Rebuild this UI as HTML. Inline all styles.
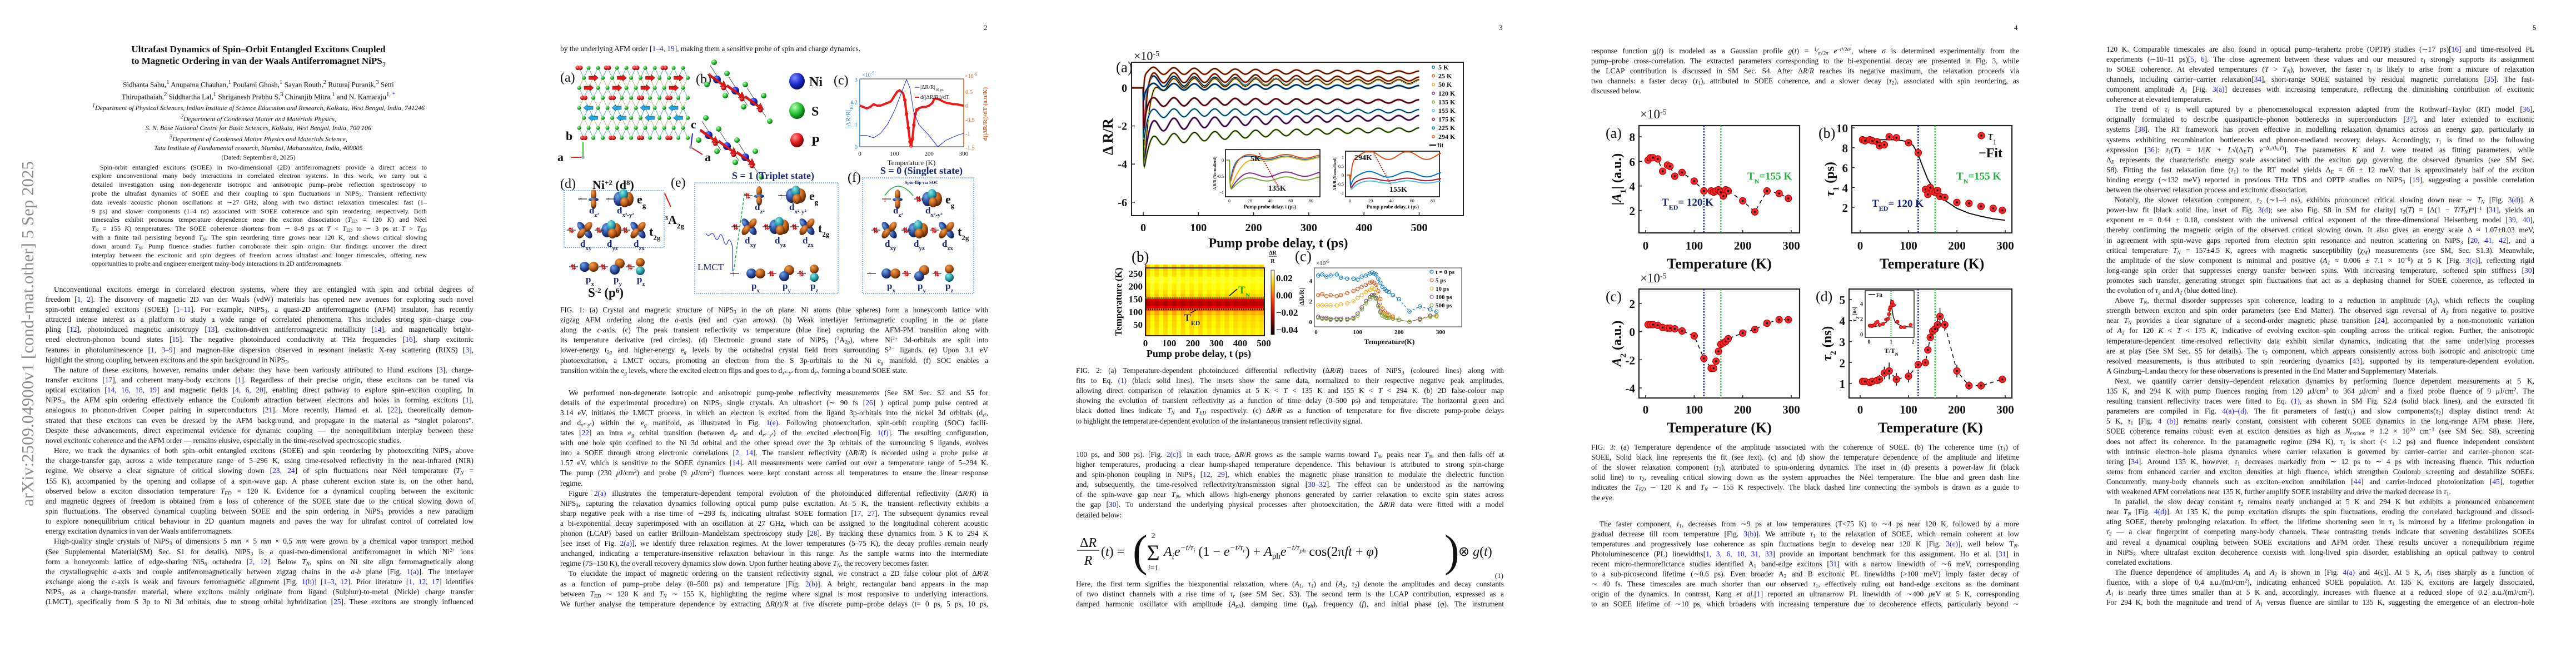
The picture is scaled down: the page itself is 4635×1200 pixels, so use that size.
<!DOCTYPE html>
<html><head><meta charset="utf-8">
<style>
html,body{margin:0;padding:0;background:#fff;}
#root{position:relative;width:4635px;height:1200px;overflow:hidden;background:#fff;font-family:"Liberation Serif",serif;color:#111;}
.ln{position:absolute;white-space:nowrap;line-height:1;transform-origin:0 0;}
.ln sub,.ln sup{font-size:70%;line-height:0;}
.ln sub{vertical-align:-0.25em;}
.ln sup{vertical-align:0.45em;}
.c{color:#1a1aee;}
.abs{position:absolute;white-space:nowrap;line-height:1;}
#ov{position:absolute;left:0;top:0;}
</style></head>
<body>
<div id="root">
<svg id="ov" width="4635" height="1200" viewBox="0 0 4635 1200" xmlns="http://www.w3.org/2000/svg">
<defs>
<radialGradient id="gO" cx="35%" cy="30%" r="70%"><stop offset="0" stop-color="#f0a050"/><stop offset="0.6" stop-color="#b85a14"/><stop offset="1" stop-color="#5a2606"/></radialGradient>
<radialGradient id="gB" cx="35%" cy="30%" r="70%"><stop offset="0" stop-color="#6fa8e8"/><stop offset="0.6" stop-color="#2a4a9a"/><stop offset="1" stop-color="#101e50"/></radialGradient>
<radialGradient id="gT" cx="35%" cy="30%" r="70%"><stop offset="0" stop-color="#8ee8e0"/><stop offset="0.6" stop-color="#2aa0b0"/><stop offset="1" stop-color="#105060"/></radialGradient>
<radialGradient id="gNi" cx="35%" cy="30%" r="70%"><stop offset="0" stop-color="#7d8cff"/><stop offset="0.6" stop-color="#1a2ad0"/><stop offset="1" stop-color="#0a1060"/></radialGradient>
<radialGradient id="gS" cx="35%" cy="30%" r="70%"><stop offset="0" stop-color="#b8ffb0"/><stop offset="0.6" stop-color="#22c030"/><stop offset="1" stop-color="#0a6010"/></radialGradient>
<radialGradient id="gP" cx="35%" cy="30%" r="70%"><stop offset="0" stop-color="#ff9090"/><stop offset="0.6" stop-color="#e01818"/><stop offset="1" stop-color="#700808"/></radialGradient>
<linearGradient id="cbar" x1="0" y1="1" x2="0" y2="0"><stop offset="0" stop-color="#000"/><stop offset="0.3" stop-color="#b00000"/><stop offset="0.55" stop-color="#ff4000"/><stop offset="0.8" stop-color="#ffd000"/><stop offset="1" stop-color="#fffff0"/></linearGradient>
</defs>
<text x="0" y="0" transform="translate(60,911) rotate(-90)" font-family="Liberation Serif" font-size="31" fill="#8a8a8a" textLength="621" lengthAdjust="spacingAndGlyphs">arXiv:2509.04900v1  [cond-mat.other]  5 Sep 2025</text>
</svg>

<!-- page numbers -->
<div class="abs" style="left:1770px;top:43px;font-size:13px;">2</div>
<div class="abs" style="left:2697px;top:43px;font-size:13px;">3</div>
<div class="abs" style="left:3624px;top:43px;font-size:13px;">4</div>
<div class="abs" style="left:4557px;top:43px;font-size:13px;">5</div>

<!-- title block page 1 -->
<div class="abs" style="left:0;width:930px;top:78px;text-align:center;font-weight:bold;font-size:17px;line-height:21px;">Ultrafast Dynamics of Spin–Orbit Entangled Excitons Coupled<br>to Magnetic Ordering in van der Waals Antiferromagnet NiPS<sub style="font-size:70%;font-weight:normal">3</sub></div>
<div class="abs" style="left:0;width:930px;top:139px;text-align:center;font-size:13px;line-height:18px;">Sidhanta Sahu,<sup>1</sup> Anupama Chauhan,<sup>1</sup> Poulami Ghosh,<sup>1</sup> Sayan Routh,<sup>2</sup> Ruturaj Puranik,<sup>3</sup> Setti<br>Thirupathaiah,<sup>2</sup> Siddhartha Lal,<sup>1</sup> Shriganesh Prabhu S,<sup>3</sup> Chiranjib Mitra,<sup>1</sup> and N. Kamaraju<sup>1, <span class="c">*</span></sup></div>
<div class="abs" style="left:0;width:930px;top:183px;text-align:center;font-size:12px;line-height:16.6px;font-style:italic;"><sup>1</sup>Department of Physical Sciences, Indian Institute of Science Education and Research, Kolkata, West Bengal, India, 741246<br><sup>2</sup>Department of Condensed Matter and Materials Physics,<br>S. N. Bose National Centre for Basic Sciences, Kolkata, West Bengal, India, 700 106<br><sup>3</sup>Department of Condensed Matter Physics and Materials Science,<br>Tata Institute of Fundamental research, Mumbai, Maharashtra, India, 400005<br><span style="font-style:normal">(Dated: September 8, 2025)</span></div>

<script>
const root = document.getElementById('root');
const svg = document.getElementById('ov');
const NS = 'http://www.w3.org/2000/svg';

function colorize(s){
  return s.replace(/\[([0-9][0-9,\s–]*)\]/g,'[<span class="c">$1</span>]')
          .replace(/Fig\. (\d ?(?:\([a-f]\))?(?:–\([a-f]\))?)/g,'Fig. <span class="c">$1</span>')
          .replace(/Eq\. \((\d)\)/g,'Eq. <span class="c">($1)</span>')
          .replace(/Figure (\d\([a-f]\))/g,'Figure <span class="c">$1</span>');
}
function block(name, x, y, w, lh, fs, lines){
  lines.forEach(function(s, i){
    const indent = s.charAt(0) === '¶';
    const last = s.charAt(s.length-1) === '$';
    s = s.replace(/^¶/,'').replace(/\$$/,'');
    const d = document.createElement('div');
    d.className = 'ln';
    
    
    d.innerHTML = colorize(s);
    d.style.fontSize = fs + 'px';
    d.style.left = (x + (indent ? 15 : 0)) + 'px';
    d.style.top = (y + i*lh - fs*0.62) + 'px';
    root.appendChild(d);
    const W = w - (indent ? 15 : 0);
    const nat = d.scrollWidth;
    if (nat > W) {
      d.style.transform = 'scaleX(' + (W/nat) + ')';
    } else if (!last) {
      d.style.whiteSpace = 'normal';
      d.style.width = W + 'px';
      d.style.textAlign = 'justify';
      d.style.textAlignLast = 'justify';
    }
  });
}
const TN = '<i>T</i><sub><i>N</i></sub>', TED = '<i>T</i><sub><i>ED</i></sub>', N3 = 'NiPS<sub>3</sub>';
const t1 = '<i>τ</i><sub>1</sub>', t2 = '<i>τ</i><sub>2</sub>', A1 = '<i>A</i><sub>1</sub>', A2 = '<i>A</i><sub>2</sub>', DR = 'Δ<i>R</i>/<i>R</i>';

// ---------- PAGE 1 ----------
block('abstract-line', 165, 302, 603, 15.8, 12, [
'¶Spin-orbit entangled excitons (SOEE) in two-dimensional (2D) antiferromagnets provide a direct access to',
'explore unconventional many body interactions in correlated electron systems. In this work, we carry out a',
'detailed investigation using non-degenerate isotropic and anisotropic pump–probe reflection spectroscopy to',
'probe the ultrafast dynamics of SOEE and their coupling to spin fluctuations in '+N3+'. Transient reflectivity',
'data reveals acoustic phonon oscillations at ∼27 GHz, along with two distinct relaxation timescales: fast (1–',
'9 ps) and slower components (1–4 ns) associated with SOEE coherence and spin reordering, respectively. Both',
'timescales exhibit pronouns temperature dependence near the exciton dissociation (<i>T</i><sub>ED</sub> = 120 <i>K</i>) and Néel',
'<i>T</i><sub>N</sub> = 155 <i>K</i>) temperatures. The SOEE coherence shortens from ∼ 8–9 ps at <i>T</i> &lt; <i>T</i><sub>ED</sub> to ∼ 3 ps at <i>T</i> &gt; <i>T</i><sub>ED</sub>',
'with a finite tail persisting beyond <i>T</i><sub>N</sub>. The spin reordering time grows near 120 K, and shows critical slowing',
'down around <i>T</i><sub>N</sub>. Pump fluence studies further corroborate their spin origin. Our findings uncover the direct',
'interplay between the excitonic and spin degrees of freedom across ultrafast and longer timescales, offering new',
'opportunities to probe and engineer emergent many-body interactions in 2D antiferromagnets.$'
]);
block('body-text-line', 82, 522, 770, 18.15, 13.4, [
'¶Unconventional excitons emerge in correlated electron systems, where they are entangled with spin and orbital degrees of',
'freedom [1, 2]. The discovery of magnetic 2D van der Waals (vdW) materials has opened new avenues for exploring such novel',
'spin-orbit entangled excitons (SOEE) [1–11]. For example, '+N3+', a quasi-2D antiferromagnetic (AFM) insulator, has recently',
'attracted intense interest as a platform to study a wide range of correlated phenomena. This includes strong spin–charge cou-',
'pling [12], photoinduced magnetic anisotropy [13], exciton-driven antiferromagnetic metallicity [14], and magnetically bright-',
'ened electron-phonon bound states [15]. The negative photoinduced conductivity at THz frequencies [16], sharp excitonic',
'features in photoluminescence [1, 3–9] and magnon-like dispersion observed in resonant inelastic X-ray scattering (RIXS) [3],',
'highlight the strong coupling between excitons and the spin background in '+N3+'.$',
'¶The nature of these excitons, however, remains under debate: they have been variously attributed to Hund excitons [3], charge-',
'transfer excitons [17], and coherent many-body excitons [1]. Regardless of their precise origin, these excitons can be tuned via',
'optical excitation [14, 16, 18, 19] and magnetic fields [4, 6, 20], enabling direct pathway to explore spin–exciton coupling. In',
N3+', the AFM spin ordering effectively enhance the Coulomb attraction between electrons and holes in forming excitons [1],',
'analogous to phonon-driven Cooper pairing in superconductors [21]. More recently, Hamad et. al. [22], theoretically demon-',
'strated that these excitons can even be dressed by the AFM background, and propagate in the material as “singlet polarons”.',
'Despite these advancements, direct experimental evidence for dynamic coupling — the nonequilibrium interplay between these',
'novel excitonic coherence and the AFM order — remains elusive, especially in the time-resolved spectroscopic studies.$',
'¶Here, we track the dynamics of both spin–orbit entangled excitons (SOEE) and spin reordering by photoexciting '+N3+' above',
'the charge-transfer gap, across a wide temperature range of 5–296 K, using time-resolved reflectivity in the near-infrared (NIR)',
'regime. We observe a clear signature of critical slowing down [23, 24] of spin fluctuations near Néel temperature ('+TN+' =',
'155 K), accompanied by the opening and collapse of a spin-wave gap. A phase coherent exciton state is, on the other hand,',
'observed below a exciton dissociation temperature '+TED+' = 120 K. Evidence for a dynamical coupling between the excitonic',
'and magnetic degrees of freedom is obtained from a loss of coherence of the SOEE state due to the critical slowing down of',
'spin fluctuations. The observed dynamical coupling between SOEE and the spin ordering in '+N3+' provides a new paradigm',
'to explore nonequilibrium critical behaviour in 2D quantum magnets and paves the way for ultrafast control of correlated low',
'energy excitation dynamics in van der Waals antiferromagnets.$',
'¶High-quality single crystals of '+N3+' of dimensions 5 <i>mm</i> × 5 <i>mm</i> × 0.5 <i>mm</i> were grown by a chemical vapor transport method',
'(See Supplemental Material(SM) Sec. S1 for details). '+N3+' is a quasi-two-dimensional antiferromagnet in which Ni<sup>2+</sup> ions',
'form a honeycomb lattice of edge-sharing NiS<sub>6</sub> octahedra [2, 12]. Below '+TN+', spins on Ni site align ferromagnetically along',
'the crystallographic <i>a</i>-axis and couple antiferromagnetically between zigzag chains in the <i>a</i>-<i>b</i> plane [Fig. 1(a)]. The interlayer',
'exchange along the <i>c</i>-axis is weak and favours ferromagnetic alignment [Fig. 1(b)] [1–3, 12]. Prior literature [1, 12, 17] identifies',
N3+' as a charge-transfer material, where excitons mainly originate from ligand (Sulphur)-to-metal (Nickle) charge transfer',
'(LMCT), specifically from S 3p to Ni 3d orbitals, due to strong orbital hybridization [25]. These excitons are strongly influenced'
]);

// ---------- PAGE 2 ----------
block('body-text-line', 1008, 89, 770, 18.15, 13.4, ['by the underlying AFM order [1–4, 19], making them a sensitive probe of spin and charge dynamics.$']);
block('fig1-caption-line', 1008, 559, 770, 18.15, 13.2, [
'FIG. 1: (a) Crystal and magnetic structure of '+N3+' in the <i>ab</i> plane. Ni atoms (blue spheres) form a honeycomb lattice with',
'zigzag AFM ordering along the <i>a</i>-axis (red and cyan arrows). (b) Weak interlayer ferromagnetic coupling in the <i>ac</i> plane',
'along the <i>c</i>-axis. (c) The peak transient reflectivity vs temperature (blue line) capturing the AFM-PM transition along with',
'its temperature derivative (red circles). (d) Electronic ground state of '+N3+' (<sup>3</sup>A<sub>2<i>g</i></sub>), where Ni<sup>2+</sup> 3d-orbitals are split into',
'lower-energy t<sub>2<i>g</i></sub> and higher-energy e<sub><i>g</i></sub> levels by the octahedral crystal field from surrounding S<sup>2−</sup> ligands. (e) Upon 3.1 eV',
'photoexcitation, a LMCT occurs, promoting an electron from the S 3p-orbitals to the Ni e<sub><i>g</i></sub> manifold. (f) SOC enables a',
'transition within the e<sub><i>g</i></sub> levels, where the excited electron flips and goes to d<sub><i>x</i>²−<i>y</i>²</sub> from d<sub><i>z</i>²</sub>, forming a bound SOEE state.$'
]);
block('body-text-line', 1008, 708, 770, 18.1, 13.4, [
'¶We performed non-degenerate isotropic and anisotropic pump-probe reflectivity measurements (See SM Sec. S2 and S5 for',
'details of the experimental procedure) on '+N3+' single crystals. An ultrashort (∼ 90 fs [26] ) optical pump pulse centred at',
'3.14 eV, initiates the LMCT process, in which an electron is excited from the ligand 3p-orbitals into the nickel 3d orbitals (d<sub><i>z</i>²</sub>,',
'and d<sub><i>x</i>²−<i>y</i>²</sub>) within the e<sub><i>g</i></sub> manifold, as illustrated in Fig. 1(e). Following photoexcitation, spin-orbit coupling (SOC) facili-',
'tates [22] an intra e<sub><i>g</i></sub> orbital transition (between d<sub><i>z</i>²</sub> and d<sub><i>x</i>²−<i>y</i>²</sub>) of the excited electron[Fig. 1(f)]. The resulting configuration,',
'with one hole spin confined to the Ni 3d orbital and the other spread over the 3p orbitals of the surrounding S ligands, evolves',
'into a SOEE through strong electronic correlations [2, 14]. The transient reflectivity ('+DR+') is recorded using a probe pulse at',
'1.57 eV, which is sensitive to the SOEE dynamics [14]. All measurements were carried out over a temperature range of 5–294 K.',
'The pump (230 <i>μ</i>J/cm<sup>2</sup>) and probe (9 <i>μ</i>J/cm<sup>2</sup>) fluences were kept constant across all temperatures to ensure the linear response',
'regime.$',
'¶Figure 2(a) illustrates the temperature-dependent temporal evolution of the photoinduced differential reflectivity ('+DR+') in',
N3+', capturing the relaxation dynamics following optical pump pulse excitation. At 5 K, the transient reflectivity exhibits a',
'sharp negative peak with a rise time of ∼293 fs, indicating ultrafast SOEE formation [17, 27]. The subsequent dynamics reveal',
'a bi-exponential decay superimposed with an oscillation at 27 GHz, which can be assigned to the longitudinal coherent acoustic',
'phonon (LCAP) based on earlier Brillouin–Mandelstam spectroscopy study [28]. By tracking these dynamics from 5 K to 294 K',
'[see inset of Fig. 2(a)], we identify three relaxation regimes. At the lower temperatures (5–75 K), the decay profiles remain nearly',
'unchanged, indicating a temperature-insensitive relaxation behaviour in this range. As the sample warms into the intermediate',
'regime (75–150 K), the overall recovery dynamics slow down. Upon further heating above '+TN+', the recovery becomes faster.$',
'¶To elucidate the impact of magnetic ordering on the transient reflectivity signal, we construct a 2D false colour plot of '+DR,
'as a function of pump–probe delay (0–500 ps) and temperature [Fig. 2(b)]. A bright, rectangular band appears in the map',
'between '+TED+' ∼ 120 K and '+TN+' ∼ 155 K, highlighting the regime where signal is most responsive to underlying interactions.',
'We further analyse the temperature dependence by extracting Δ<i>R</i>(<i>t</i>)/<i>R</i> at five discrete pump–probe delays (t= 0 ps, 5 ps, 10 ps,'
]);

// ---------- PAGE 3 ----------
block('fig2-caption-line', 1936, 668, 770, 18.15, 13.2, [
'FIG. 2: (a) Temperature-dependent photoinduced differential reflectivity ('+DR+') traces of '+N3+' (coloured lines) along with',
'fits to Eq. (1) (black solid lines). The insets show the same data, normalized to their respective negative peak amplitudes,',
'allowing direct comparison of relaxation dynamics at 5 K &lt; <i>T</i> &lt; 135 K and 155 K &lt; <i>T</i> &lt; 294 K. (b) 2D false-colour map',
'showing the evolution of transient reflectivity as a function of time delay (0–500 ps) and temperature. The horizontal green and',
'black dotted lines indicate '+TN+' and '+TED+' respectively. (c) '+DR+' as a function of temperature for five discrete pump-probe delays',
'to highlight the temperature-dependent evolution of the instantaneous transient reflectivity signal.$'
]);
block('body-text-line', 1936, 819, 770, 18.15, 13.4, [
'100 ps, and 500 ps). [Fig. 2(c)]. In each trace, '+DR+' grows as the sample warms toward '+TN+', peaks near '+TN+', and then falls off at',
'higher temperatures, producing a clear hump-shaped temperature dependence. This behaviour is attributed to strong spin-charge',
'and spin-phonon coupling in '+N3+' [12, 29], which enables the magnetic phase transition to modulate the dielectric function',
'and, subsequently, the time-resolved reflectivity/transmission signal [30–32]. The effect can be understood as the narrowing',
'of the spin-wave gap near '+TN+', which allows high-energy phonons generated by carrier relaxation to excite spin states across',
'the gap [30]. To understand the underlying physical processes after photoexcitation, the '+DR+' data were fitted with a model',
'detailed below:$'
]);
block('body-text-line', 1936, 1052, 770, 18.1, 13.4, [
'Here, the first term signifies the biexponential relaxation, where ('+A1+', '+t1+') and ('+A2+', '+t2+') denote the amplitudes and decay constants',
'of two distinct channels with a rise time of <i>τ<sub>r</sub></i> (see SM Sec. S3). The second term is the LCAP contribution, expressed as a',
'damped harmonic oscillator with amplitude (<i>A<sub>ph</sub></i>), damping time (<i>τ<sub>ph</sub></i>), frequency (<i>f</i>), and initial phase (<i>φ</i>). The instrument'
]);

// ---------- PAGE 4 ----------
block('body-text-line', 2863, 93, 770, 18.15, 13.4, [
'response function <i>g</i>(<i>t</i>) is modeled as a Gaussian profile <i>g</i>(<i>t</i>) = <sup>1</sup>⁄<sub><i>σ</i>√2<i>π</i></sub> <i>e</i><sup>−<i>t</i>²/2<i>σ</i>²</sup>, where <i>σ</i> is determined experimentally from the',
'pump–probe cross-correlation. The extracted parameters corresponding to the bi-exponential decay are presented in Fig. 3, while',
'the LCAP contribution is discussed in SM Sec. S4. After '+DR+' reaches its negative maximum, the relaxation proceeds via',
'two channels: a faster decay ('+t1+'), attributed to SOEE coherence, and a slower decay ('+t2+'), associated with spin reordering, as',
'discussed below.$'
]);
block('fig3-caption-line', 2863, 806, 770, 18.15, 13.2, [
'FIG. 3: (a) Temperature dependence of the amplitude associated with the coherence of SOEE. (b) The coherence time ('+t1+') of',
'SOEE, Solid black line represents the fit (see text). (c) and (d) show the temperature dependence of the amplitude and lifetime',
'of the slower relaxation component ('+t2+'), attributed to spin-ordering dynamics. The inset in (d) presents a power-law fit (black',
'solid line) to '+t2+', revealing critical slowing down as the system approaches the Néel temperature. The blue and green dash line',
'indicates the '+TED+' ∼ 120 K and '+TN+' ∼ 155 K respectively. The black dashed line connecting the symbols is drawn as a guide to',
'the eye.$'
]);
block('body-text-line', 2863, 944, 770, 18.1, 13.4, [
'¶The faster component, '+t1+', decreases from ∼9 ps at low temperatures (T&lt;75 K) to ∼4 ps near 120 K, followed by a more',
'gradual decrease till room temperature [Fig. 3(b)]. We attribute '+t1+' to the relaxation of SOEE, which remain coherent at low',
'temperatures and progressively lose coherence as spin fluctuations begin to develop near 120 K [Fig. 3(c)], well below T<sub><i>N</i></sub>.',
'Photoluminescence (PL) linewidths[1, 3, 6, 10, 31, 33] provide an important benchmark for this assignment. Ho et al. [31] in',
'recent micro-thermoreflctance studies identified A<sub>1</sub> band-edge excitons [31] with a narrow linewidth of ∼6 meV, corresponding',
'to a sub-picosecond lifetime (∼0.6 ps). Even broader A<sub>2</sub> and B excitonic PL linewidths (&gt;100 meV) imply faster decay of',
'∼ 40 fs. These timescales are much shorter than our observed '+t1+', effectively ruling out band-edge excitons as the dominant',
'origin of the dynamics. In contrast, Kang <i>et al.</i>[1] reported an ultranarrow PL linewidth of ∼400 <i>μ</i>eV at 5 K, corresponding',
'to an SOEE lifetime of ∼10 ps, which broadens with increasing temperature due to decoherence effects, particularly beyond ∼'
]);

// ---------- PAGE 5 ----------
block('body-text-line', 3790, 90, 770, 18.1, 13.4, [
'120 K. Comparable timescales are also found in optical pump–terahertz probe (OPTP) studies (∼17 ps)[16] and time-resolved PL',
'experiments (∼10–11 ps)[5, 6]. The close agreement between these values and our measured '+t1+' strongly supports its assignment',
'to SOEE coherence. At elevated temperatures (<i>T</i> &gt; '+TN+'), however, the faster '+t1+' is likely to arise from a mixture of relaxation',
'channels, including carrier–carrier relaxation[34], short-range SOEE sustained by residual magnetic correlations [35]. The fast-',
'component amplitude '+A1+' [Fig. 3(a)] decreases with increasing temperature, reflecting the diminishing contribution of excitonic',
'coherence at elevated temperatures.$',
'¶The trend of '+t1+' is well captured by a phenomenological expression adapted from the Rothwarf–Taylor (RT) model [36],',
'originally formulated to describe quasiparticle–phonon bottlenecks in superconductors [37], and later extended to excitonic',
'systems [38]. The RT framework has proven effective in modelling relaxation dynamics across an energy gap, particularly in',
'systems exhibiting recombination bottlenecks and phonon-mediated recovery delays. Accordingly, '+t1+' is fitted to the following',
'expression [36]: <i>τ</i><sub>1</sub>(<i>T</i>) = 1/[<i>K</i> + <i>L</i>√(Δ<sub><i>E</i></sub><i>T</i>) <i>e</i><sup>−Δ<sub>E</sub>/(<i>k<sub>B</sub>T</i>)</sup>]. The parameters <i>K</i> and <i>L</i> were treated as fitting parameters, while',
'Δ<sub><i>E</i></sub> represents the characteristic energy scale associated with the exciton gap governing the observed dynamics (see SM Sec.',
'S8). Fitting the fast relaxation time ('+t1+') to the RT model yields Δ<sub><i>E</i></sub> = 66 ± 12 meV, that is approximately half of the exciton',
'binding energy (∼132 meV) reported in previous THz TDS and OPTP studies on '+N3+' [19], suggesting a possible correlation',
'between the observed relaxation process and excitonic dissociation.$',
'¶Notably, the slower relaxation component, '+t2+' (∼1–4 ns), exhibits pronounced critical slowing down near ∼ '+TN+' [Fig. 3(d)]. A',
'power-law fit [black solid line, inset of Fig. 3(d); see also Fig. S8 in SM for clarity] <i>τ</i><sub>2</sub>(<i>T</i>) = [Δ(1 − <i>T</i>/'+TN+')<sup><i>m</i></sup>]<sup>−1</sup> [31], yields an',
'exponent <i>m</i> = 0.44 ± 0.18, consistent with the universal critical exponent of the three-dimensional Heisenberg model [39, 40],',
'thereby confirming the magnetic origin of the observed critical slowing down. It also gives an energy scale Δ ≈ 1.07±0.03 meV,',
'in agreement with spin-wave gaps reported from electron spin resonance and neutron scattering on '+N3+' [20, 41, 42], and a',
'critical temperature '+TN+' = 157±4.5 K, agrees with magnetic susceptibility (<i>χ<sub>M</sub></i>) measurements (see SM, Sec. S1.3). Meanwhile,',
'the amplitude of the slow component is minimal and positive ('+A2+' ≈ 0.006 ± 7.1 × 10<sup>−6</sup>) at 5 K [Fig. 3(c)], reflecting rigid',
'long-range spin order that suppresses energy transfer between spins. With increasing temperature, softened spin stiffness [30]',
'promotes such transfer, generating stronger spin fluctuations that act as a dephasing channel for SOEE coherence, as reflected in',
'the evolution of '+t2+' and '+A2+' (blue dotted line).$',
'¶Above '+TN+', thermal disorder suppresses spin coherence, leading to a reduction in amplitude ('+A2+'), which reflects the coupling',
'strength between exciton and spin order parameters (see End Matter). The observed sign reversal of '+A2+' from negative to positive',
'near '+TN+' provides a clear signature of a second-order magnetic phase transition [24], accompanied by a non-monotonic variation',
'of '+A2+' for 120 <i>K</i> &lt; <i>T</i> &lt; 175 <i>K</i>, indicative of evolving exciton–spin coupling across the critical region. Further, the anisotropic',
'temperature-dependent time-resolved reflectivity data exhibit similar dynamics, indicating that the same underlying processes',
'are at play (See SM Sec. S5 for details). The '+t2+' component, which appears consistently across both isotropic and anisotropic time',
'resolved measurements, is thus attributed to spin reordering dynamics [43], supported by its temperature-dependent evolution.',
'A Ginzburg–Landau theory for these observations is presented in the End Matter and Supplementary Materials.$',
'¶Next, we quantify carrier density–dependent relaxation dynamics by performing fluence dependent measurements at 5 K,',
'135 K, and 294 K with pump fluences ranging from 120 <i>μ</i>J/cm<sup>2</sup> to 364 <i>μ</i>J/cm<sup>2</sup> and a fixed probe fluence of 9 <i>μ</i>J/cm<sup>2</sup>. The',
'resulting transient reflectivity traces were fitted to Eq. (1), as shown in SM Fig. S2.4 (solid black lines), and the extracted fit',
'parameters are compiled in Fig. 4(a)–(d). The fit parameters of fast('+t1+') and slow components('+t2+') display distinct trend: At',
'5 K, '+t1+' [Fig. 4 (b)] remains nearly constant, consistent with coherent SOEE dynamics in the long-range AFM phase. Here,',
'SOEE coherence remains robust: even at exciton densities as high as <i>N</i><sub>exciton</sub> ≈ 1.2 × 10<sup>20</sup> cm<sup>−3</sup> (see SM Sec. S8), screening',
'does not affect its coherence. In the paramagnetic regime (294 K), '+t1+' is short (&lt; 1.2 ps) and fluence independent consistent',
'with intrinsic electron–hole plasma dynamics where carrier relaxation is governed by carrier–carrier and carrier–phonon scat-',
'tering [34]. Around 135 K, however, '+t1+' decreases markedly from ∼ 12 ps to ∼ 4 ps with increasing fluence. This reduction',
'stems from enhanced carrier and exciton densities at high fluence, which strengthen Coulomb screening and destabilize SOEEs.',
'Concurrently, many-body channels such as exciton–exciton annihilation [44] and carrier-induced photoionization [45], together',
'with weakened AFM correlations near 135 K, further amplify SOEE instability and drive the marked decrease in '+t1+'.$',
'¶In parallel, the slow decay constant '+t2+' remains nearly unchanged at 5 K and 294 K but exhibits a pronounced enhancement',
'near '+TN+' [Fig. 4(d)]. At 135 K, the pump excitation disrupts the spin fluctuations, eroding the correlated background and dissoci-',
'ating SOEE, thereby prolonging relaxation. In effect, the lifetime shortening seen in '+t1+' is mirrored by a lifetime prolongation in',
t2+' — a clear fingerprint of competing many-body channels. These contrasting trends indicate that screening destabilizes SOEEs',
'and reveal a dynamical coupling between SOEE excitations and AFM order. These results uncover a nonequilibrium regime',
'in '+N3+' where ultrafast exciton decoherence coexists with long-lived spin disorder, establishing an optical pathway to control',
'correlated excitations.$',
'¶The fluence dependence of amplitudes '+A1+' and '+A2+' is shown in [Fig. 4(a) and 4(c)]. At 5 K, '+A1+' rises sharply as a function of',
'fluence, with a slope of 0.4 a.u./(mJ/cm<sup>2</sup>), indicating enhanced SOEE population. At 135 K, excitons are largely dissociated,',
A1+' is nearly three times smaller than at 5 K and, accordingly, increases with fluence at a reduced slope of 0.2 a.u./(mJ/cm<sup>2</sup>).',
'For 294 K, both the magnitude and trend of '+A1+' versus fluence are similar to 135 K, suggesting the emergence of an electron–hole'
]);

// ---------- SVG helpers ----------
function S(tag, a, name){
  const el = document.createElementNS(NS, tag);
  for (const k in a) el.setAttribute(k, a[k]);
  
  
  svg.appendChild(el);
  return el;
}
function T(x, y, str, size, name, opt){
  opt = opt || {};
  const el = document.createElementNS(NS, 'text');
  el.setAttribute('x', x); el.setAttribute('y', y);
  el.setAttribute('font-family', 'Liberation Serif');
  el.setAttribute('font-size', size);
  if (opt.bold) el.setAttribute('font-weight', 'bold');
  if (opt.italic) el.setAttribute('font-style', 'italic');
  el.setAttribute('fill', opt.fill || '#111');
  if (opt.anchor) el.setAttribute('text-anchor', opt.anchor);
  if (opt.rot) el.setAttribute('transform', 'rotate(' + opt.rot + ' ' + x + ' ' + y + ')');
  
  
  el.innerHTML = str;
  svg.appendChild(el);
  return el;
}
function lin(d0, d1, r0, r1){ return function(v){ return r0 + (v - d0) * (r1 - r0) / (d1 - d0); }; }
function pathFrom(xsArr, ysArr, xs, ys){
  let d = '';
  for (let i = 0; i < xsArr.length; i++) d += (i ? 'L' : 'M') + xs(xsArr[i]).toFixed(1) + ',' + ys(ysArr[i]).toFixed(1);
  return d;
}

// ================= FIG 1 (schematic) =================
T(1008, 147, '(a)', 24, 'fig1a-label');
// lattice
(function(){
  const pts = [];
  for (let r = 0; r < 8; r++) for (let c = 0; c < 12; c++) pts.push([1042 + c*17 + (r%2)*8.5, 122 + r*18, r, c]);
  pts.forEach(function(p){
    pts.forEach(function(q){
      if (q[2] === p[2] + 1 && Math.abs(q[0] - p[0]) < 9) S('line', {x1:p[0], y1:p[1], x2:q[0], y2:q[1], stroke:(p[2]%2 ? '#b0a050' : '#3a9aa0'), 'stroke-width':0.8}, 'lattice-bond');
    });
  });
  pts.forEach(function(p){
    const r = p[2], c = p[3];
    if ((r === 0 || r === 3 || r === 7) && c % 3 === 0) {
      S('circle', {cx:p[0]-2.5, cy:p[1], r:4, fill:'url(#gP)'}, 'p-atom');
      S('circle', {cx:p[0]+2.5, cy:p[1], r:4, fill:'url(#gP)'}, 'p-atom');
    } else {
      S('circle', {cx:p[0], cy:p[1], r:3.6, fill:'url(#gS)'}, 's-atom');
    }
    if ((r === 1 || r === 2) && c % 3 === 1 && c < 11) S('path', {d:'M'+(p[0]-8)+','+(p[1]-3)+'h10v-3l7,6l-7,6v-3h-10z', fill:'#e01818', stroke:'#700', 'stroke-width':0.5}, 'spin-arrow-up');
    if ((r === 4 || r === 5) && c % 3 === 1 && c < 11) S('path', {d:'M'+(p[0]+8)+','+(p[1]-3)+'h-10v-3l-7,6l7,6v-3h10z', fill:'#20a8e8', stroke:'#035', 'stroke-width':0.5}, 'spin-arrow-down');
  });
})();
T(1018, 252, 'b', 22, 'fig1a-axis-b', {bold:true});
T(1003, 290, 'a', 22, 'fig1a-axis-a', {bold:true});
S('line', {x1:1049, y1:283, x2:1049, y2:256, stroke:'#2c2', 'stroke-width':2}, 'axis-b-arrow');
S('line', {x1:1049, y1:283, x2:1028, y2:283, stroke:'#d22', 'stroke-width':2}, 'axis-a-arrow');
S('circle', {cx:1049, cy:283, r:3, fill:'#aaa'}, 'axis-origin');
// (b)
T(1252, 150, '(b)', 24, 'fig1b-label');
(function(){
  const chains = [[1290,140],[1275,240]];
  chains.forEach(function(c0){
    for (let k = 0; k < 3; k++) {
      const x = c0[0] + k*33, y = c0[1] + k*20;
      S('line', {x1:x-12, y1:y-22, x2:x+22, y2:y+30, stroke:'#333', 'stroke-width':0.8}, 'bond');
      S('circle', {cx:x, cy:y+3, r:7, fill:'url(#gNi)'}, 'ni-atom');
      S('circle', {cx:x-18, cy:y+12, r:5, fill:'url(#gS)'}, 's-atom');
      S('circle', {cx:x+18, cy:y-8, r:5, fill:'url(#gS)'}, 's-atom');
      S('circle', {cx:x+12, cy:y+18, r:4.5, fill:'url(#gP)'}, 'p-atom');
      S('path', {d:'M'+(x-14)+','+(y-8)+'L'+(x+10)+','+(y+10)+'L'+(x+12)+','+(y+5)+'L'+(x+18)+','+(y+17)+'L'+(x+5)+','+(y+16)+'L'+(x+8)+','+(y+13)+'L'+(x-16)+','+(y-4)+'z', fill:'#e01818', stroke:'#700', 'stroke-width':0.5}, 'spin-arrow');
    }
    S('circle', {cx:c0[0]-5, cy:c0[1]-28, r:5, fill:'url(#gS)'}, 's-atom');
    S('circle', {cx:c0[0]+95, cy:c0[1]+78, r:5, fill:'url(#gS)'}, 's-atom');
  });
})();
T(1243, 231, 'c', 22, 'fig1b-axis-c', {bold:true});
T(1268, 290, 'a', 22, 'fig1b-axis-a', {bold:true});
S('line', {x1:1243, y1:265, x2:1246, y2:240, stroke:'#22c', 'stroke-width':2}, 'axis-c-arrow');
S('line', {x1:1243, y1:265, x2:1264, y2:278, stroke:'#c22', 'stroke-width':2}, 'axis-a-arrow');
S('circle', {cx:1243, cy:265, r:3, fill:'#aaa'}, 'axis-origin');
S('ellipse', {cx:1434, cy:146, rx:14, ry:15, fill:'url(#gNi)'}, 'legend-ni-sphere');
T(1456, 155, 'Ni', 24, 'legend-ni-label', {bold:true});
S('ellipse', {cx:1434, cy:199, rx:14, ry:15, fill:'url(#gS)'}, 'legend-s-sphere');
T(1460, 208, 'S', 24, 'legend-s-label', {bold:true});
S('ellipse', {cx:1434, cy:252, rx:12, ry:13, fill:'url(#gP)'}, 'legend-p-sphere');
T(1460, 262, 'P', 24, 'legend-p-label', {bold:true});

// (c) chart data
const c1Temps = [0,20,40,60,80,100,120,135,145,155,170,200,225,250,280,300];
const c1Peak = [0.5,0.5,0.4,0.6,1.0,1.6,2.4,3.0,2.6,1.6,1.0,0.5,0.0,0.3,0.5,0.6];
const c1DerivTemps = [0,10,20,30,40,50,60,70,80,90,100,108,115,120,125,130,135,140,145,148,152,156,160,165,170,180,190,200,210,215,220,230,240,250,260,270,280,290,300];
const c1Deriv = [0.0,-0.05,-0.1,-0.05,0.05,0.0,0.0,0.05,0.1,0.15,0.35,0.5,0.55,0.5,0.45,0.2,-0.3,-0.8,-1.3,-1.45,-1.2,-0.7,-0.3,-0.15,-0.1,-0.05,-0.05,0.0,0.1,0.25,0.25,0.22,0.15,0.1,0.08,0.05,0.05,0.02,0.0];
const c1LeftTicks = [0,1,2,3];
const c1RightTicks = [-1.5,-1,-0.5,0,0.5];
const c1XTicks = [0,100,200,300];
(function(){
  const xs = lin(0,300,1547,1734), yl = lin(0,3,264,143), yr = lin(0,0.5,190,165);
  T(1500, 152, '(c)', 24, 'fig1c-label');
  S('rect', {x:1547, y:142, width:187, height:122, fill:'none', stroke:'#333', 'stroke-width':1}, 'fig1c-plot-area');
  S('line', {x1:1547, y1:142, x2:1547, y2:264, stroke:'#2a8ad0', 'stroke-width':1.5}, 'fig1c-left-axis');
  S('line', {x1:1734, y1:142, x2:1734, y2:264, stroke:'#d06020', 'stroke-width':1.5}, 'fig1c-right-axis');
  c1LeftTicks.forEach(function(v){ T(1543, yl(v)+4, String(v), 11, 'fig1c-left-tick', {anchor:'end', fill:'#2a8ad0'}); });
  c1RightTicks.forEach(function(v){ T(1737, yr(v)+4, String(v), 10.5, 'fig1c-right-tick', {fill:'#d06020'}); });
  c1XTicks.forEach(function(v){ T(xs(v), 280, String(v), 11, 'fig1c-x-tick', {anchor:'middle'}); });
  T(1640, 297, 'Temperature (K)', 13, 'fig1c-x-title', {anchor:'middle'});
  T(1551, 138, '×10<tspan baseline-shift="super" font-size="8">-5</tspan>', 10, 'fig1c-left-exponent', {fill:'#2a8ad0'});
  T(1736, 140, '×10<tspan baseline-shift="super" font-size="8">-6</tspan>', 10, 'fig1c-right-exponent', {fill:'#d06020'});
  T(1530, 205, '|ΔR/R|<tspan font-size="8" baseline-shift="sub">10 ps</tspan>', 12, 'fig1c-left-title', {anchor:'middle', fill:'#2a8ad0', rot:-90});
  T(1776, 205, 'd(|ΔR/R|)/dT (a.u/K)', 11, 'fig1c-right-title', {anchor:'middle', fill:'#d06020', rot:-90, bold:true});
  S('path', {d:pathFrom(c1DerivTemps, c1Deriv, xs, yr), fill:'none', stroke:'#ee1a1a', 'stroke-width':4}, 'fig1c-derivative-line');
  c1DerivTemps.forEach(function(t, i){ if (t > 125 && t < 170) S('circle', {cx:xs(t), cy:yr(c1Deriv[i]), r:2.5, fill:'none', stroke:'#e11', 'stroke-width':1.2}, 'fig1c-derivative-marker'); });
  S('path', {d:pathFrom(c1Temps, c1Peak, xs, yl), fill:'none', stroke:'#1a2ae0', 'stroke-width':1}, 'fig1c-peak-line');
  S('line', {x1:1646, y1:157, x2:1654, y2:157, stroke:'#1a2ae0', 'stroke-width':1.2}, 'fig1c-legend-blue');
  T(1656, 160, '|ΔR/R|<tspan font-size="7" baseline-shift="sub">10 ps</tspan>', 10, 'fig1c-legend-peak-text');
  S('line', {x1:1646, y1:175, x2:1654, y2:175, stroke:'#e11', 'stroke-width':2}, 'fig1c-legend-red');
  T(1656, 178, 'd(|ΔR/R|)/dT', 10, 'fig1c-legend-deriv-text');
})();

// orbital drawing
function orb(x, y, type){
  if (type === 'z') {
    S('ellipse', {cx:x, cy:y-8, rx:5, ry:9, fill:'url(#gO)'}, 'orbital-lobe');
    S('ellipse', {cx:x, cy:y+1, rx:9, ry:3.5, fill:'url(#gB)'}, 'orbital-ring');
    S('ellipse', {cx:x, cy:y+9, rx:5, ry:9, fill:'url(#gO)'}, 'orbital-lobe');
  } else if (type === 'x') {
    S('ellipse', {cx:x-8, cy:y, rx:10, ry:13, fill:'url(#gB)'}, 'orbital-lobe');
    S('ellipse', {cx:x+8, cy:y, rx:10, ry:13, fill:'url(#gO)'}, 'orbital-lobe');
    S('ellipse', {cx:x, cy:y-8, rx:8, ry:10, fill:'url(#gT)'}, 'orbital-lobe');
    S('ellipse', {cx:x+2, cy:y+6, rx:8, ry:9, fill:'url(#gO)'}, 'orbital-lobe');
  } else if (type === 't') {
    S('ellipse', {cx:x-6, cy:y-6, rx:6, ry:10, fill:'url(#gB)', transform:'rotate(-35 '+(x-6)+' '+(y-6)+')'}, 'orbital-lobe');
    S('ellipse', {cx:x+6, cy:y+6, rx:6, ry:10, fill:'url(#gB)', transform:'rotate(-35 '+(x+6)+' '+(y+6)+')'}, 'orbital-lobe');
    S('ellipse', {cx:x+6, cy:y-6, rx:6, ry:10, fill:'url(#gO)', transform:'rotate(35 '+(x+6)+' '+(y-6)+')'}, 'orbital-lobe');
    S('ellipse', {cx:x-6, cy:y+6, rx:6, ry:10, fill:'url(#gO)', transform:'rotate(35 '+(x-6)+' '+(y+6)+')'}, 'orbital-lobe');
  } else if (type === 'px') {
    S('circle', {cx:x-8, cy:y, r:9, fill:'url(#gB)'}, 'orbital-lobe');
    S('circle', {cx:x+8, cy:y, r:9, fill:'url(#gO)'}, 'orbital-lobe');
  } else if (type === 'py') {
    S('circle', {cx:x+5, cy:y-6, r:9, fill:'url(#gO)'}, 'orbital-lobe');
    S('circle', {cx:x-4, cy:y+5, r:9, fill:'url(#gB)'}, 'orbital-lobe');
  } else {
    S('circle', {cx:x, cy:y-8, r:8, fill:'url(#gO)'}, 'orbital-lobe');
    S('circle', {cx:x, cy:y+7, r:8, fill:'url(#gT)'}, 'orbital-lobe');
  }
}
function spin(x, y, str){ T(x, y+5, str, 13, 'spin-marker', {fill:'#e01010', bold:true}); S('line', {x1:x-2, y1:y, x2:x+14, y2:y, stroke:'#222', 'stroke-width':1.2}, 'energy-level'); }
function lab(x, y, main, sub){ T(x, y, main + '<tspan font-size="11" baseline-shift="sub">' + sub + '</tspan>', 17, 'orbital-label', {fill:'#1a2a78', bold:true}); }
function orbPanel(xs, y0, ebox){
  // eg row
  orb(xs[0], y0, 'z'); orb(xs[1], y0, 'x');
  lab(xs[0]-8, y0+26, 'd', 'z²'); lab(xs[1]-12, y0+26, 'd', 'x²-y²');
  T(xs[1]+24, y0+8, 'e<tspan font-size="13" baseline-shift="sub">g</tspan>', 22, 'eg-label', {bold:true});
  orb(xs[2], y0+56, 't'); orb(xs[3], y0+56, 'x'); orb(xs[4], y0+56, 't');
  lab(xs[2]-8, y0+86, 'd', 'xy'); lab(xs[3]-8, y0+86, 'd', 'yz'); lab(xs[4]-8, y0+86, 'd', 'zx');
  T(xs[4]+20, y0+66, 't<tspan font-size="13" baseline-shift="sub">2g</tspan>', 22, 't2g-label', {bold:true});
  spin(xs[0]-26, y0, ebox[0]); spin(xs[1]-30, y0, ebox[1]);
  spin(xs[2]-30, y0+56, '⇅'); spin(xs[3]-28, y0+56, '⇅'); spin(xs[4]-28, y0+56, '⇅');
}
T(1008, 338, '(d)', 24, 'fig1d-label');
T(1066, 340, 'Ni<tspan font-size="13" baseline-shift="super">+2</tspan> (d<tspan font-size="13" baseline-shift="super">8</tspan>)', 22, 'fig1d-title', {bold:true});
S('rect', {x:1015, y:343, width:180, height:102, fill:'none', stroke:'#2a8ad0', 'stroke-width':1.4, 'stroke-dasharray':'1.5,2'}, 'fig1d-box');
orbPanel([1068,1122,1052,1100,1148], 358, ['↑','↑']);
orb(1060, 480, 'px'); orb(1110, 480, 'py'); orb(1152, 480, 'pz');
spin(1026, 480, '⇅'); spin(1080, 480, '⇅'); spin(1128, 480, '⇅');
lab(1054, 508, 'p', 'x'); lab(1104, 508, 'p', 'y'); lab(1146, 508, 'p', 'z');
T(1058, 534, 'S<tspan font-size="13" baseline-shift="super">-2</tspan> (p<tspan font-size="13" baseline-shift="super">6</tspan>)', 23, 'fig1d-sulfur-title', {bold:true});
S('line', {x1:1196, y1:348, x2:1207, y2:372, stroke:'#e11', 'stroke-width':2}, 'fig1d-arrow');
T(1196, 403, '<tspan font-size="12" baseline-shift="super">3</tspan>A<tspan font-size="13" baseline-shift="sub">2g</tspan>', 22, 'fig1d-term-label', {bold:true});

T(1207, 336, '(e)', 24, 'fig1e-label');
T(1391, 322, 'S = 1 (Triplet state)', 18, 'fig1e-title', {anchor:'middle', bold:true, fill:'#1a2a78'});
S('rect', {x:1250, y:329, width:258, height:199, fill:'none', stroke:'#2a8ad0', 'stroke-width':1.4, 'stroke-dasharray':'1.5,2'}, 'fig1e-box');
orbPanel([1366,1432,1348,1402,1452], 352, ['⇅','↑']);
orb(1360, 492, 'px'); orb(1415, 492, 'py'); orb(1465, 492, 'pz');
spin(1316, 492, '↑'); spin(1383, 492, '⇅'); spin(1436, 492, '⇅');
lab(1352, 520, 'p', 'x'); lab(1408, 520, 'p', 'y'); lab(1458, 520, 'p', 'z');
T(1255, 486, 'LMCT', 17, 'fig1e-lmct-label', {fill:'#1a2a78'});
S('path', {d:'M1270,420 q4,6 8,2 q4,-6 8,4 q4,10 8,0 q4,-10 8,6 q4,14 8,2 q3,-8 8,10 L1318,488', fill:'none', stroke:'#2a3ae0', 'stroke-width':1.2}, 'fig1e-photon');
S('line', {x1:1320, y1:488, x2:1340, y2:345, stroke:'#22aa44', 'stroke-width':1.6, 'stroke-dasharray':'5,3'}, 'fig1e-excitation-arrow');

T(1525, 327, '(f)', 24, 'fig1f-label');
T(1658, 313, 'S = 0 (Singlet state)', 18, 'fig1f-title', {anchor:'middle', bold:true, fill:'#1a2a78'});
S('rect', {x:1552, y:320, width:200, height:208, fill:'none', stroke:'#2a8ad0', 'stroke-width':1.4, 'stroke-dasharray':'1.5,2'}, 'fig1f-box');
orbPanel([1615,1677,1600,1652,1703], 358, ['↓','⇅']);
orb(1603, 492, 'px'); orb(1658, 492, 'py'); orb(1708, 492, 'pz');
spin(1562, 492, '↑'); spin(1625, 492, '⇅'); spin(1680, 492, '⇅');
lab(1596, 520, 'p', 'x'); lab(1651, 520, 'p', 'y'); lab(1701, 520, 'p', 'z');
S('path', {d:'M1592,352 Q1615,318 1643,352', fill:'none', stroke:'#22aa44', 'stroke-width':1.6}, 'fig1f-spin-flip-arrow');
T(1628, 331, 'Spin-flip via SOC', 8, 'fig1f-spin-flip-label', {fill:'#1a2a78', bold:true});

// ================= FIG 2(a) =================
const traceLabels = ['5 K','25 K','50 K','120 K','135 K','155 K','175 K','225 K','294 K'];
const traceDip = [-5.0,-4.6,-4.9,-4.3,-4.6,-3.4,-3.0,-1.2,-0.8];
const traceEarlyLevel = [0.35,0.55,0.2,-2.0,-2.8,-1.35,-0.75,0.05,0.9];
const traceLateLevel = [0.3,0.45,0.35,-1.5,-2.1,-1.2,-0.7,0.05,0.8];
const traceTauFast = [3,4,9,6,6,4,3,2,1.5];
const tracePhononAmp = [0.3,0.3,0.3,0.35,0.3,0.25,0.25,0.2,0.2];
const phononFreqGHz = 27;
const delayXTicks = [0,100,200,300,400,500];
const dRYTicks = [0,-2,-4,-6];
const traceColors = ['#0072BD','#D95319','#EDB120','#7E2F8E','#77AC30','#4DBEEE','#A2142F','#0072BD','#D95319'];
function fitModel(i, t){
  if (t < 0) return 0;
  const rise = 1 - Math.exp(-t/0.5);
  const lvl = traceEarlyLevel[i] + (traceLateLevel[i] - traceEarlyLevel[i]) * (1 - Math.exp(-t/250));
  const ph = tracePhononAmp[i] * Math.exp(-t/450) * Math.cos(2*Math.PI*phononFreqGHz*t/1000 + Math.PI) * (1 - Math.exp(-t/4));
  return rise * (lvl + (traceDip[i] - lvl) * Math.exp(-t/traceTauFast[i]) + ph);
}
(function(){
  const xs = lin(0,100,2057,2156.3), ys = lin(0,-2,158,226.6);
  T(2008, 130, '(a)', 27, 'fig2a-label');
  T(2040, 108, '×10<tspan font-size="14" baseline-shift="super">-5</tspan>', 22, 'fig2a-exponent');
  S('rect', {x:2036, y:112, width:597, height:276, fill:'#fff', stroke:'#222', 'stroke-width':2}, 'fig2a-plot-area');
  delayXTicks.forEach(function(v){
    S('line', {x1:xs(v), y1:388, x2:xs(v), y2:382, stroke:'#222', 'stroke-width':1.5}, 'fig2a-x-tick');
    T(xs(v), 416, String(v), 20, 'fig2a-x-tick-label', {anchor:'middle', bold:true});
  });
  dRYTicks.forEach(function(v){
    S('line', {x1:2036, y1:ys(v), x2:2042, y2:ys(v), stroke:'#222', 'stroke-width':1.5}, 'fig2a-y-tick');
    T(2028, ys(v)+7, String(v), 20, 'fig2a-y-tick-label', {anchor:'end', bold:true});
  });
  T(2300, 445, 'Pump probe delay, t (ps)', 24, 'fig2a-x-title', {anchor:'middle', bold:true});
  T(2002, 246, 'Δ R/R', 26, 'fig2a-y-title', {anchor:'middle', bold:true, rot:-90});
  for (let i = 0; i < traceLabels.length; i++) {
    const tt = [], vv = [];
    for (let t = -20; t <= 500; t += (t < 20 ? 0.5 : 2)) { tt.push(t); vv.push(fitModel(i, t)); }
    S('path', {d:pathFrom(tt, vv, xs, ys), fill:'none', stroke:traceColors[i], 'stroke-width':3.2}, 'fig2a-trace-' + traceLabels[i].replace(' ','').toLowerCase());
    S('path', {d:pathFrom(tt, vv, xs, ys), fill:'none', stroke:'#000', 'stroke-width':1.2}, 'fig2a-fit-' + traceLabels[i].replace(' ','').toLowerCase());
  }
  traceLabels.forEach(function(lbl, i){
    const y = 121 + i*15.6;
    S('circle', {cx:2579, cy:y, r:2.2, fill:'none', stroke:traceColors[i], 'stroke-width':1.5}, 'fig2a-legend-marker');
    T(2588, y+4, lbl, 12, 'fig2a-legend-label', {bold:true});
  });
  S('line', {x1:2572, y1:261, x2:2584, y2:261, stroke:'#000', 'stroke-width':2}, 'fig2a-legend-fit-line');
  T(2586, 265, 'fit', 12, 'fig2a-legend-fit-label', {bold:true});
  // insets
  const insets = [
    {x0:2205, y0:269, x1:2375, y1:354, idx:[0,1,2,3,4], xs:lin(0,80,2212,2359), ys:lin(0,-1,288,346), yt:[0,-0.5,-1], ymin:-1.1, ymax:0.33, cx:2285},
    {x0:2421, y0:272, x1:2590, y1:354, idx:[5,6,7,8], xs:lin(0,80,2429,2578), ys:lin(0,1,315,283), yt:[1,0.5,0,-0.5,-1], ymin:-1.25, ymax:1.3, cx:2506}
  ];
  insets.forEach(function(ins, k){
    S('rect', {x:ins.x0, y:ins.y0, width:ins.x1-ins.x0, height:ins.y1-ins.y0, fill:'#fff', stroke:'#222', 'stroke-width':1.8}, 'fig2a-inset-' + (k+1));
    ins.idx.forEach(function(i){
      const tt = [], vv = [];
      for (let t = -3; t <= 88; t += 0.5) { tt.push(t); vv.push(Math.max(ins.ymin, Math.min(ins.ymax, fitModel(i, t) / Math.abs(traceDip[i])))); }
      S('path', {d:pathFrom(tt, vv, ins.xs, ins.ys), fill:'none', stroke:traceColors[i], 'stroke-width':2}, 'fig2a-inset-trace');
    });
    [0,20,40,60,80].forEach(function(v){ T(ins.xs(v), ins.y1+10, String(v), 8, 'fig2a-inset-x-tick', {anchor:'middle'}); });
    ins.yt.forEach(function(v){ T(ins.x0-3, ins.ys(v)+3, String(v), 8, 'fig2a-inset-y-tick', {anchor:'end'}); });
    T(ins.cx, ins.y1+21, 'Pump probe delay, t (ps)', 9, 'fig2a-inset-x-title', {anchor:'middle', bold:true});
    T(ins.x0-17, (ins.y0+ins.y1)/2, 'Δ R/R (Normalized)', 7, 'fig2a-inset-y-title', {anchor:'middle', bold:true, rot:-90});
  });
  T(2250, 290, '5K', 14, 'fig2a-inset1-5k', {bold:true});
  T(2282, 343, '135K', 14, 'fig2a-inset1-135k', {bold:true});
  S('line', {x1:2266, y1:276, x2:2300, y2:336, stroke:'#c01010', 'stroke-width':2, 'stroke-dasharray':'2,2'}, 'fig2a-inset1-arrow');
  T(2437, 288, '294K', 14, 'fig2a-inset2-294k', {bold:true});
  T(2500, 345, '155K', 14, 'fig2a-inset2-155k', {bold:true});
  S('line', {x1:2472, y1:276, x2:2503, y2:333, stroke:'#c01010', 'stroke-width':2, 'stroke-dasharray':'2,2'}, 'fig2a-inset2-arrow');
})();

// ================= FIG 2(b) heatmap =================
const heatTemps = [5,25,50,75,100,110,120,130,140,150,155,165,175,200,225,250,275,294];
const heatRowLevel = [0.006,0.006,0.005,0.004,0.0,-0.01,-0.022,-0.026,-0.026,-0.02,-0.005,0.004,0.006,0.008,0.01,0.006,0.004,0.004];
const heatDelays = [0,3,20,38,57,75,94,112,131,149,168,186,205,223,242,260,279,297,316,334,353,371,390,408,427,445,464,482,500];
const heatDelayMod = [-0.04,-0.003,0.003,-0.002,0.003,-0.002,0.003,-0.002,0.003,-0.002,0.002,-0.002,0.002,-0.002,0.002,-0.001,0.002,-0.001,0.002,-0.001,0.002,-0.001,0.001,-0.001,0.001,-0.001,0.001,-0.001];
const cbarTicks = [0.02,0.00,-0.02,-0.04];
function hot(v){
  const s = Math.max(0, Math.min(1, (v + 0.045) / 0.07));
  const r = Math.min(1, s/0.375), g = Math.max(0, Math.min(1, (s-0.375)/0.375)), b = Math.max(0, Math.min(1, (s-0.75)/0.25));
  return 'rgb(' + Math.round(r*255) + ',' + Math.round(g*255) + ',' + Math.round(b*200) + ')';
}
(function(){
  const xs = lin(0,500,2061,2274), ys = lin(50,250,584,492);
  T(2036, 471, '(b)', 27, 'fig2b-label');
  for (let i = 0; i < heatTemps.length; i++) {
    const tLo = i === 0 ? 6 : (heatTemps[i-1] + heatTemps[i]) / 2;
    const tHi = i === heatTemps.length-1 ? 272 : (heatTemps[i] + heatTemps[i+1]) / 2;
    for (let j = 0; j < heatDelays.length - 1; j++) {
      const el = S('rect', {x:xs(heatDelays[j]).toFixed(2), y:ys(tHi).toFixed(2), width:(xs(heatDelays[j+1]) - xs(heatDelays[j]) + 0.4).toFixed(2), height:(ys(tLo) - ys(tHi) + 0.4).toFixed(2), fill:hot(heatRowLevel[i] + heatDelayMod[j] * (i > 4 && i < 10 ? 0.5 : 1))}, 'fig2b-heat-cell');
    }
  }
  S('rect', {x:2061, y:482, width:214, height:122, fill:'none', stroke:'#222', 'stroke-width':2}, 'fig2b-plot-area');
  S('line', {x1:2061, y1:ys(155), x2:2275, y2:ys(155), stroke:'#22b040', 'stroke-width':2.5, 'stroke-dasharray':'2,2'}, 'fig2b-tn-line');
  S('line', {x1:2061, y1:ys(110), x2:2275, y2:ys(110), stroke:'#000', 'stroke-width':2.5, 'stroke-dasharray':'2,2'}, 'fig2b-ted-line');
  T(2228, 528, 'T<tspan font-size="12" baseline-shift="sub">N</tspan>', 19, 'fig2b-tn-label', {fill:'#22b040', bold:true});
  S('line', {x1:2212, y1:532, x2:2226, y2:520, stroke:'#000', 'stroke-width':1.5}, 'fig2b-tn-arrow');
  T(2130, 578, 'T<tspan font-size="12" baseline-shift="sub">ED</tspan>', 19, 'fig2b-ted-label', {fill:'#1a2a78', bold:true});
  S('line', {x1:2142, y1:563, x2:2152, y2:558, stroke:'#000', 'stroke-width':1.5}, 'fig2b-ted-arrow');
  [0,100,200,300,400,500].forEach(function(v){ T(xs(v), 623, String(v), 17, 'fig2b-x-tick-label', {anchor:'middle', bold:true}); });
  [50,100,150,200,250].forEach(function(v){ T(2056, ys(v)+6, String(v), 17, 'fig2b-y-tick-label', {anchor:'end', bold:true}); });
  T(2157, 642, 'Pump probe delay, t (ps)', 18, 'fig2b-x-title', {anchor:'middle', bold:true});
  T(2018, 543, 'Temperature (K)', 17, 'fig2b-y-title', {anchor:'middle', bold:true, rot:-90});
  S('rect', {x:2287, y:486, width:6, height:116, fill:'url(#cbar)', stroke:'#222', 'stroke-width':0.8}, 'fig2b-colorbar');
  const cy = lin(0.02, -0.04, 500, 593);
  cbarTicks.forEach(function(v){ T(2296, cy(v)+6, (v < 0 ? '−' : '') + Math.abs(v).toFixed(2), 17, 'fig2b-colorbar-tick', {bold:true}); });
  T(2290, 458, 'ΔR', 10, 'fig2b-colorbar-title', {anchor:'middle', bold:true});
  S('line', {x1:2283, y1:461, x2:2297, y2:461, stroke:'#000', 'stroke-width':1}, 'fig2b-colorbar-fraction');
  T(2290, 473, 'R', 10, 'fig2b-colorbar-title-r', {anchor:'middle', bold:true});
})();

// ================= FIG 2(c) =================
const c2Temps = [5,15,25,35,50,60,75,90,100,110,120,130,135,140,145,150,155,160,165,170,175,185,200,225,250,275,290];
const c2Delay0 = [4.5,4.6,4.4,4.5,4.6,4.3,4.2,4.2,4.1,4.4,4.5,4.7,4.8,4.7,4.6,4.2,3.8,3.4,3.2,3.0,2.9,2.6,2.2,1.0,1.5,1.2,1.0];
const c2Delay5 = [2.6,2.7,2.5,2.6,2.5,2.6,2.8,3.0,3.2,3.4,3.6,3.8,3.9,3.8,3.6,3.0,2.2,1.3,1.0,0.8,0.7,0.5,0.2,0.0,0.3,0.5,0.6];
const c2Delay10 = [1.6,1.6,1.6,1.6,1.6,1.7,1.8,2.0,2.3,2.6,2.9,3.1,3.3,3.2,2.9,2.2,1.5,0.9,0.7,0.6,0.5,0.4,0.2,0.0,0.3,0.5,0.5];
const c2Delay100 = [0.5,0.4,0.4,0.3,0.3,0.3,0.3,0.4,0.8,1.4,2.0,2.4,2.6,2.6,2.3,1.6,1.0,0.6,0.5,0.4,0.4,0.3,0.2,0.0,0.3,0.6,0.6];
const c2Delay500 = [0.4,0.3,0.3,0.2,0.2,0.2,0.2,0.3,0.6,1.2,1.8,2.2,2.4,2.5,2.2,1.5,0.9,0.6,0.5,0.4,0.4,0.3,0.2,0.0,0.2,0.5,0.6];
const c2Labels = ['t = 0 ps','5 ps','10 ps','100 ps','500 ps'];
(function(){
  const xs = lin(0,100,2368,2442.7), ys = lin(0,2,579,542);
  const series = [c2Delay0, c2Delay5, c2Delay10, c2Delay100, c2Delay500];
  const cols = ['#0072BD','#D95319','#EDB120','#7E2F8E','#77AC30'];
  T(2330, 470, '(c)', 27, 'fig2c-label');
  T(2368, 477, '×10<tspan font-size="8" baseline-shift="super">-5</tspan>', 11, 'fig2c-exponent');
  S('rect', {x:2365, y:482, width:265, height:106, fill:'#fff', stroke:'#333', 'stroke-width':1}, 'fig2c-plot-area');
  series.forEach(function(sv, k){
    S('path', {d:pathFrom(c2Temps, sv, xs, ys), fill:'none', stroke:cols[k], 'stroke-width':1, 'stroke-dasharray':'4,3'}, 'fig2c-line-' + k);
    c2Temps.forEach(function(t, i){ S('circle', {cx:xs(t), cy:ys(sv[i]), r:3.2, fill:'none', stroke:cols[k], 'stroke-width':1.1}, 'fig2c-marker'); });
    S('circle', {cx:2576, cy:489 + k*15, r:3, fill:'none', stroke:cols[k], 'stroke-width':1.1}, 'fig2c-legend-marker');
    T(2583, 493 + k*15, c2Labels[k], 11, 'fig2c-legend-label', {bold:true});
  });
  [0,100,200,300].forEach(function(v){ T(xs(v), 601, String(v), 11, 'fig2c-x-tick-label', {anchor:'middle', bold:true}); });
  [0,2,4].forEach(function(v){ T(2361, ys(v)+4, String(v), 11, 'fig2c-y-tick-label', {anchor:'end', bold:true}); });
  T(2500, 619, 'Temperature(K)', 13, 'fig2c-x-title', {anchor:'middle', bold:true});
  T(2346, 535, '|ΔR/R|', 12, 'fig2c-y-title', {anchor:'middle', bold:true, rot:-90});
})();

// ================= EQUATION (1) =================
(function(){
  T(1958, 984, 'Δ<tspan font-style="italic">R</tspan>', 24, 'eq1-numerator', {anchor:'middle'});
  S('line', {x1:1938, y1:990, x2:1978, y2:990, stroke:'#111', 'stroke-width':1.2}, 'eq1-fraction-bar');
  T(1958, 1016, '<tspan font-style="italic">R</tspan>', 24, 'eq1-denominator', {anchor:'middle'});
  T(1981, 1000, '(<tspan font-style="italic">t</tspan>) =', 24, 'eq1-lhs');
  T(2038, 1018, '(', 80, 'eq1-open-paren');
  T(2075, 968, '2', 14, 'eq1-sum-upper', {anchor:'middle'});
  T(2075, 1008, 'Σ', 40, 'eq1-sum', {anchor:'middle'});
  T(2075, 1026, '<tspan font-style="italic">i</tspan>=1', 14, 'eq1-sum-lower', {anchor:'middle'});
  T(2094, 1000, '<tspan font-style="italic">A<tspan font-size="15" dy="5">i</tspan><tspan dy="-5">e</tspan><tspan font-size="15" dy="-10">−t/τ</tspan><tspan font-size="11" dy="4">i</tspan></tspan><tspan dy="6"> (1 − </tspan><tspan font-style="italic">e</tspan><tspan font-size="15" font-style="italic" dy="-10">−t/τ</tspan><tspan font-size="11" font-style="italic" dy="4">r</tspan><tspan dy="6">) + </tspan><tspan font-style="italic">A</tspan><tspan font-size="15" dy="5">ph</tspan><tspan font-style="italic" dy="-5">e</tspan><tspan font-size="15" font-style="italic" dy="-10">−t/τ</tspan><tspan font-size="11" font-style="italic" dy="4">ph</tspan><tspan dy="6"> cos(2π</tspan><tspan font-style="italic">ft</tspan> + <tspan font-style="italic">φ</tspan>)', 24, 'eq1-body');
  T(2599, 1018, ')', 80, 'eq1-close-paren');
  T(2624, 1000, '⊗ <tspan font-style="italic">g</tspan>(<tspan font-style="italic">t</tspan>)', 24, 'eq1-convolution');
  T(2705, 1040, '(1)', 13, 'eq1-number', {anchor:'end'});
})();

// ================= FIG 3 =================
const f3Temps = [5,10,15,25,35,45,50,60,75,100,120,135,140,145,150,155,160,165,170,200,225,250,275,294];
const f3A1 = [6.1,6.3,6.3,6.2,5.2,5.7,5.6,4.8,5.1,4.4,3.6,3.6,3.5,3.6,3.7,3.5,3.2,3.7,3.6,2.8,1.9,3.6,3.4,3.0];
const f3A2 = [0.5,0.5,0.5,0.45,0.3,0.25,0.25,0.2,0.05,-0.3,-1.9,-2.6,-2.6,-2.1,-1.4,-0.9,-0.8,-0.7,-0.5,-0.1,0.15,0.6,0.85,0.85];
const f3Tau1Temps = [5,10,20,25,35,40,50,60,75,100,120,135,140,145,150,155,160,165,175,200,225,250,275,294];
const f3Tau1 = [8.8,8.7,8.8,8.7,8.6,8.2,8.3,9.1,9.0,8.5,7.5,3.8,3.3,4.0,3.6,3.5,3.7,3.1,3.0,2.5,2.4,2.1,1.9,1.7];
const f3FitTemps = [0,25,50,75,100,110,120,130,140,150,160,175,200,225,250,275,300];
const f3FitTau1 = [8.8,8.8,8.8,8.8,8.6,8.2,7.3,6.0,4.8,4.0,3.4,2.7,1.9,1.4,1.1,0.85,0.7];
const f3Tau2Temps = [5,10,20,25,35,40,50,60,75,100,120,135,140,145,150,155,160,165,175,200,225,250,294];
const f3Tau2 = [1.1,1.1,1.05,1.1,1.15,1.2,1.5,1.6,1.2,1.35,1.9,2.0,2.6,3.2,3.5,3.6,3.8,4.2,3.8,1.6,0.9,0.9,1.2];
const f3Tau2Err = [0.1,0.1,0.1,0.1,0.15,0.2,0.3,0.4,0.3,0.3,0.1,0.1,0.1,0.1,0.2,0.2,0.3,0.4,0.3,0.3,0.2,0.2,0.1];
const f3InsetFitX = [0,0.3,0.6,0.8,0.9,0.95,1.0,1.05,1.1,1.2,1.5,2.0];
const f3InsetFitY = [0.9,1.0,1.2,1.6,2.2,3.0,4.6,3.2,2.3,1.5,1.0,0.9];
const f3TempTicks = [0,100,200,300];
const f3A1Ticks = [2,4,6,8];
const f3Tau1Ticks = [2,4,6,8,10];
const f3A2Ticks = [-4,-2,0,2];
const f3Tau2Ticks = [1,2,3,4,5];
const TED_K = 120, TN_K = 155;
function marker(x, y, name){
  S('circle', {cx:x, cy:y, r:6, fill:'#ee2a2a', stroke:'#b00', 'stroke-width':1.2}, name);
  S('circle', {cx:x, cy:y, r:1.8, fill:'#111'}, name + '-center');
}
function panel3(cfg){
  const xs = cfg.xs, ys = cfg.ys, b = cfg.box;
  S('rect', {x:b[0], y:b[1], width:b[2]-b[0], height:b[3]-b[1], fill:'#fff', stroke:'#222', 'stroke-width':2.2}, cfg.name + '-plot-area');
  S('line', {x1:xs(TED_K), y1:b[1], x2:xs(TED_K), y2:b[3], stroke:'#12246e', 'stroke-width':2.5, 'stroke-dasharray':'2.5,2.5'}, cfg.name + '-ted-line');
  S('line', {x1:xs(TN_K), y1:b[1], x2:xs(TN_K), y2:b[3], stroke:'#22c040', 'stroke-width':2.5, 'stroke-dasharray':'2.5,2.5'}, cfg.name + '-tn-line');
  f3TempTicks.forEach(function(v){
    S('line', {x1:xs(v), y1:b[3], x2:xs(v), y2:b[3]-5, stroke:'#222', 'stroke-width':1.5}, cfg.name + '-x-tick');
    T(xs(v), cfg.xlabY, String(v), 21, cfg.name + '-x-tick-label', {anchor:'middle', bold:true});
  });
  cfg.yt.forEach(function(v){
    S('line', {x1:b[0], y1:ys(v), x2:b[0]+5, y2:ys(v), stroke:'#222', 'stroke-width':1.5}, cfg.name + '-y-tick');
    T(b[0]-7, ys(v)+8, String(v), 21, cfg.name + '-y-tick-label', {anchor:'end', bold:true});
  });
  T((b[0]+b[2])/2, cfg.xlabY + 34, 'Temperature (K)', 26, cfg.name + '-x-title', {anchor:'middle', bold:true});
  T(cfg.ylx, (b[1]+b[3])/2, cfg.ytitle, 24, cfg.name + '-y-title', {anchor:'middle', bold:true, rot:-90});
  T(b[0]-60, b[1]+22, cfg.label, 26, cfg.name + '-label');
}
(function(){
  const xA = lin(0,300,2961,3223), xB = lin(0,300,3347,3608);
  const yA = lin(2,8,379,246), yB = lin(2,10,373,230), yC = lin(-4,2,698,546), yD = lin(1,5,690,539);
  panel3({name:'fig3a', xs:xA, ys:yA, box:[2949,226,3238,419], yt:f3A1Ticks, xlabY:449, ylx:2917, ytitle:'|<tspan font-style="italic">A</tspan><tspan font-size="15" baseline-shift="sub">1</tspan>| (a.u.)', label:'(a)'});
  panel3({name:'fig3b', xs:xB, ys:yB, box:[3332,226,3620,419], yt:f3Tau1Ticks, xlabY:449, ylx:3300, ytitle:'<tspan font-style="italic">τ</tspan><tspan font-size="15" baseline-shift="sub">1</tspan> (ps)', label:'(b)'});
  panel3({name:'fig3c', xs:xA, ys:yC, box:[2949,520,3238,716], yt:f3A2Ticks, xlabY:744, ylx:2917, ytitle:'<tspan font-style="italic">A</tspan><tspan font-size="15" baseline-shift="sub">2</tspan> (a.u.)', label:'(c)'});
  panel3({name:'fig3d', xs:xB, ys:yD, box:[3327,520,3620,716], yt:f3Tau2Ticks, xlabY:744, ylx:3295, ytitle:'<tspan font-style="italic">τ</tspan><tspan font-size="15" baseline-shift="sub">2</tspan> (ns)', label:'(d)'});
  T(2951, 213, '×10<tspan font-size="14" baseline-shift="super">-5</tspan>', 23, 'fig3a-exponent');
  T(2951, 508, '×10<tspan font-size="14" baseline-shift="super">-5</tspan>', 23, 'fig3c-exponent');
  // (a)
  S('path', {d:pathFrom(f3Temps, f3A1, xA, yA), fill:'none', stroke:'#111', 'stroke-width':1.6, 'stroke-dasharray':'7,6'}, 'fig3a-guide-line');
  f3Temps.forEach(function(t, i){ marker(xA(t), yA(f3A1[i]), 'fig3a-point'); });
  T(3144, 323, 'T<tspan font-size="12" baseline-shift="sub">N</tspan>=155 K', 19, 'fig3a-tn-annotation', {fill:'#22b040', bold:true});
  T(2990, 370, 'T<tspan font-size="12" baseline-shift="sub">ED</tspan>= 120 K', 19, 'fig3a-ted-annotation', {fill:'#12246e', bold:true});
  // (b)
  S('path', {d:pathFrom(f3FitTemps, f3FitTau1, xB, yB), fill:'none', stroke:'#111', 'stroke-width':2}, 'fig3b-fit-line');
  f3Tau1Temps.forEach(function(t, i){ marker(xB(t), yB(f3Tau1[i]), 'fig3b-point'); });
  marker(3565, 244, 'fig3b-legend-marker');
  T(3577, 252, '<tspan font-style="italic">τ</tspan><tspan font-size="14" baseline-shift="sub">1</tspan>', 24, 'fig3b-legend-tau1');
  T(3560, 283, '−Fit', 24, 'fig3b-legend-fit', {bold:true});
  T(3520, 323, 'T<tspan font-size="12" baseline-shift="sub">N</tspan>=155 K', 19, 'fig3b-tn-annotation', {fill:'#22b040', bold:true});
  T(3368, 372, 'T<tspan font-size="12" baseline-shift="sub">ED</tspan>= 120 K', 19, 'fig3b-ted-annotation', {fill:'#12246e', bold:true});
  // (c)
  S('path', {d:pathFrom(f3Temps, f3A2, xA, yC), fill:'none', stroke:'#111', 'stroke-width':1.6, 'stroke-dasharray':'7,6'}, 'fig3c-guide-line');
  f3Temps.forEach(function(t, i){ marker(xA(t), yC(f3A2[i]), 'fig3c-point'); });
  // (d)
  S('path', {d:pathFrom(f3Tau2Temps, f3Tau2, xB, yD), fill:'none', stroke:'#111', 'stroke-width':1.6, 'stroke-dasharray':'7,6'}, 'fig3d-guide-line');
  f3Tau2Temps.forEach(function(t, i){
    S('line', {x1:xB(t), y1:yD(f3Tau2[i] - f3Tau2Err[i]), x2:xB(t), y2:yD(f3Tau2[i] + f3Tau2Err[i]), stroke:'#111', 'stroke-width':1.6}, 'fig3d-error-bar');
    marker(xB(t), yD(f3Tau2[i]), 'fig3d-point');
  });
  // inset
  const ix = lin(0,2,3363,3442), iy = lin(0,4,601,546);
  S('rect', {x:3356, y:523, width:88, height:84, fill:'#fff', stroke:'#222', 'stroke-width':1.5}, 'fig3d-inset');
  S('line', {x1:ix(1), y1:523, x2:ix(1), y2:607, stroke:'#22c040', 'stroke-width':1.8, 'stroke-dasharray':'2,2'}, 'fig3d-inset-tn-line');
  S('path', {d:pathFrom(f3InsetFitX, f3InsetFitY, ix, iy), fill:'none', stroke:'#111', 'stroke-width':1.5}, 'fig3d-inset-fit');
  f3Tau2Temps.forEach(function(t, i){ S('circle', {cx:ix(t/TN_K), cy:iy(f3Tau2[i]), r:3, fill:'#ee2a2a', stroke:'#b00', 'stroke-width':0.8}, 'fig3d-inset-point'); });
  [0,1,2].forEach(function(v){ T(ix(v), 618, String(v), 10, 'fig3d-inset-x-tick', {anchor:'middle', bold:true}); });
  [0,2,4].forEach(function(v){ T(3352, iy(v)+4, String(v), 10, 'fig3d-inset-y-tick', {anchor:'end', bold:true}); });
  T(3403, 635, 'T/T<tspan font-size="8" baseline-shift="sub">N</tspan>', 12, 'fig3d-inset-x-title', {anchor:'middle', bold:true});
  T(3340, 565, 'τ<tspan font-size="8" baseline-shift="sub">2</tspan> (ns)', 10, 'fig3d-inset-y-title', {anchor:'middle', bold:true, rot:-90});
  S('line', {x1:3362, y1:530, x2:3374, y2:530, stroke:'#111', 'stroke-width':1.5}, 'fig3d-inset-legend-line');
  T(3376, 534, 'Fit', 9, 'fig3d-inset-legend-label', {bold:true});
})();
</script>
</div>
</body></html>
